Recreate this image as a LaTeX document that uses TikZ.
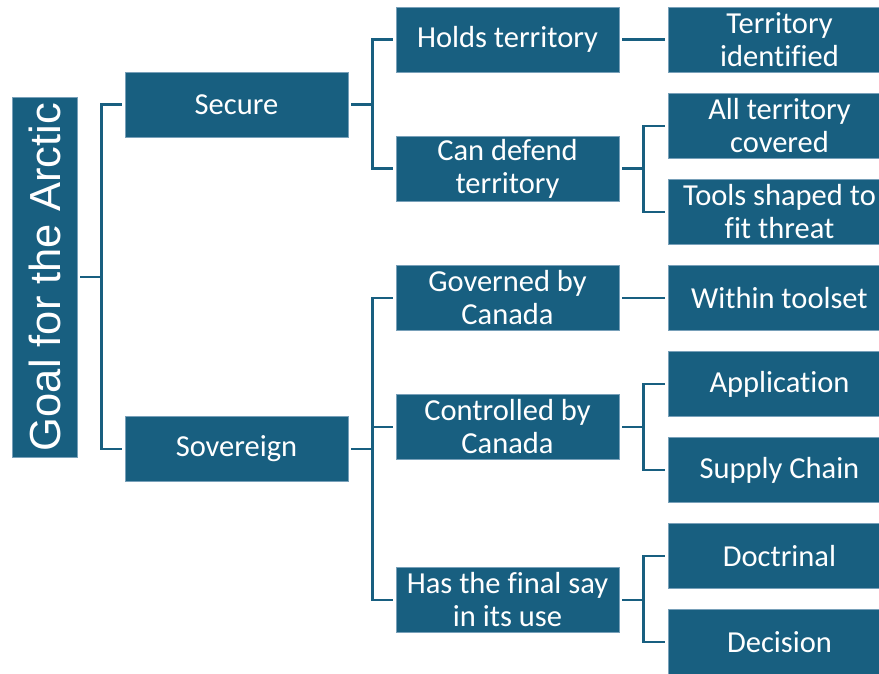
\documentclass[tikz,border=0pt]{standalone}
\usepackage{fontspec}
\setmainfont[Ligatures={NoCommon}]{Carlito}
\newfontfamily\rootfont{Liberation Sans}
\definecolor{boxblue}{RGB}{24,95,128}
\definecolor{boxedge}{RGB}{120,160,185}
\begin{document}
\begin{tikzpicture}[x=1pt,y=-1pt,
  box/.style={draw=boxedge,line width=0.8pt,fill=boxblue,text=white,
    minimum width=223pt,minimum height=65pt,inner sep=0pt,align=center,
    font=\fontsize{30.5}{33}\selectfont},
  conn/.style={draw=boxblue,line width=2.4pt}]
\useasboundingbox (0,0) rectangle (879,673);
\clip (0,0) rectangle (879,673);
% root
\node[draw=boxedge,line width=0.8pt,fill=boxblue,minimum width=65pt,minimum height=360pt,inner sep=0pt] (root) at (44.5,277) {};
\node[text=white,rotate=90,font=\rootfont\fontsize{43.5}{46}\selectfont,inner sep=0pt] (roottext) at (44.5,277) {Goal for the Arctic};
% level 1
\node[box] (secure) at (236.5,104.5) {Secure};
\node[box] (sovereign) at (236.5,449) {Sovereign};
% level 2
\node[box] (holds) at (507.5,39.5) {Holds territory};
\node[box] (defend) at (507.5,168.5) {Can defend\\territory};
\node[box] (governed) at (507.5,298) {Governed by\\Canada};
\node[box] (controlled) at (507.5,427) {Controlled by\\Canada};
\node[box] (finalsay) at (507.5,600) {Has the final say\\in its use};
% level 3
\node[box] (identified) at (779.5,39.5) {Territory\\identified};
\node[box] (covered) at (779.5,126) {All territory\\covered};
\node[box] (tools) at (779.5,212) {Tools shaped to\\fit threat};
\node[box] (toolset) at (779.5,298) {Within toolset};
\node[box] (application) at (779.5,384) {Application};
\node[box] (supply) at (779.5,470) {Supply Chain};
\node[box] (doctrinal) at (779.5,556) {Doctrinal};
\node[box] (decision) at (779.5,642) {Decision};
% connectors
\foreach \p/\c in {root/secure,root/sovereign,
  secure/holds,secure/defend,
  sovereign/governed,sovereign/controlled,sovereign/finalsay,
  holds/identified,defend/covered,defend/tools,
  governed/toolset,controlled/application,controlled/supply,
  finalsay/doctrinal,finalsay/decision}
  \draw[conn] ([xshift=3pt]\p.east) -- ++(21,0) |- ([xshift=-3pt]\c.west);
\end{tikzpicture}
\end{document}
